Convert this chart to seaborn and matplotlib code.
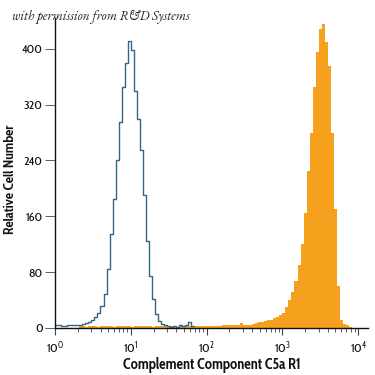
import matplotlib
matplotlib.use("Agg")
import matplotlib.pyplot as plt
import seaborn as sns
import numpy as np
import pandas as pd

# histogram bins are 0.04 decades wide, on the log10 axis
bin_width = 0.04

# isotype control (blue outline), first bin starts at 10^0
control_start = 0.0
control_counts = [5, 5, 3, 3, 4, 5, 4, 4, 5, 6,
                  7, 9, 12, 16, 22, 32, 48, 85, 135, 185,
                  240, 295, 345, 380, 411, 398, 340, 300, 255, 190,
                  125, 75, 42, 20, 10, 6, 4, 3, 2, 3,
                  2, 4, 3, 4, 8, 3]

# C5a R1 antibody (orange filled), first bin starts at 10^0.32
stained_start = 0.32
stained_counts = [3, 3, 2, 3, 3, 3, 2, 3, 3, 3,
                  3, 2, 3, 3, 3, 3, 3, 2, 3, 3,
                  3, 3, 3, 3, 2, 3, 3, 3, 3, 3,
                  3, 3, 2, 3, 3, 3, 3, 3, 3, 3,
                  3, 3, 3, 3, 3, 3, 3,
                  4, 4, 4, 4, 5, 4, 7, 5, 5, 5,
                  6, 7, 8, 9, 10, 11, 12, 14, 16, 18,
                  22, 30, 40, 52, 68, 90, 120, 165, 225, 280,
                  345, 395, 428, 435, 410, 375, 280, 170, 60, 12,
                  6, 4, 2]

y_ticks = [0, 80, 160, 240, 320, 400]
x_ticks = [1, 10, 100, 1000, 10000]


def to_frame(start, counts):
    centers = start + bin_width * (np.arange(len(counts)) + 0.5)
    return pd.DataFrame({"value": 10 ** centers, "count": counts})


control = to_frame(control_start, control_counts)
stained = to_frame(stained_start, stained_counts)

sns.set_theme(style="ticks")
narrow = ["Cabin Condensed", "Asap Condensed", "DejaVu Sans"]
plt.rcParams["font.family"] = narrow
plt.rcParams["mathtext.fontset"] = "custom"
plt.rcParams["mathtext.rm"] = "Cabin Condensed"
plt.rcParams["mathtext.it"] = "Cabin Condensed"
plt.rcParams["mathtext.bf"] = "Cabin Condensed:bold"

fig = plt.figure(figsize=(3.75, 3.75), dpi=100)
ax = fig.add_axes([55 / 375, 47 / 375, 313 / 375, 310 / 375])

sns.histplot(data=control, x="value", weights="count", log_scale=True,
             binwidth=bin_width,
             binrange=(control_start, control_start + bin_width * len(control_counts)),
             element="step", fill=False, color="#32658a", linewidth=1.0, ax=ax)
sns.histplot(data=stained, x="value", weights="count", log_scale=True,
             binwidth=bin_width,
             binrange=(stained_start, stained_start + bin_width * len(stained_counts)),
             element="step", fill=True, alpha=1.0, color="#f6a11d",
             linewidth=0, ax=ax)

ax.set_xlim(1, 10 ** 4.13)
ax.set_ylim(0, 444)
ax.set_yticks(y_ticks)
ax.set_xticks(x_ticks)
ax.tick_params(axis="both", direction="out", length=5, width=0.8,
               labelsize=9, colors="#444444", labelcolor="#111111")
ax.tick_params(axis="x", which="minor", direction="out", length=3, width=0.6,
               colors="#444444")
ax.tick_params(axis="y", length=7, width=0.6, pad=2)
for side in ["top", "right"]:
    ax.spines[side].set_visible(False)
for side in ["left", "bottom"]:
    ax.spines[side].set_linewidth(1.0)
    ax.spines[side].set_color("#111111")

ax.set_xlabel("Complement Component C5a R1", fontsize=10.5, fontweight="bold",
              color="#111111")
ax.set_ylabel("Relative Cell Number", fontsize=10, fontweight="bold",
              color="#111111")
ax.xaxis.set_label_coords(0.5, -0.092)
ax.yaxis.set_label_coords(-0.121, 0.48)

fig.text(12 / 375, 1 - 17 / 375, "with permission from R&D Systems",
         fontsize=9.5, style="italic",
         family=["EB Garamond", "Cormorant Garamond", "Liberation Serif"],
         color="#1a1a2e", va="center", ha="left")

fig.savefig("out.png", dpi=100)
